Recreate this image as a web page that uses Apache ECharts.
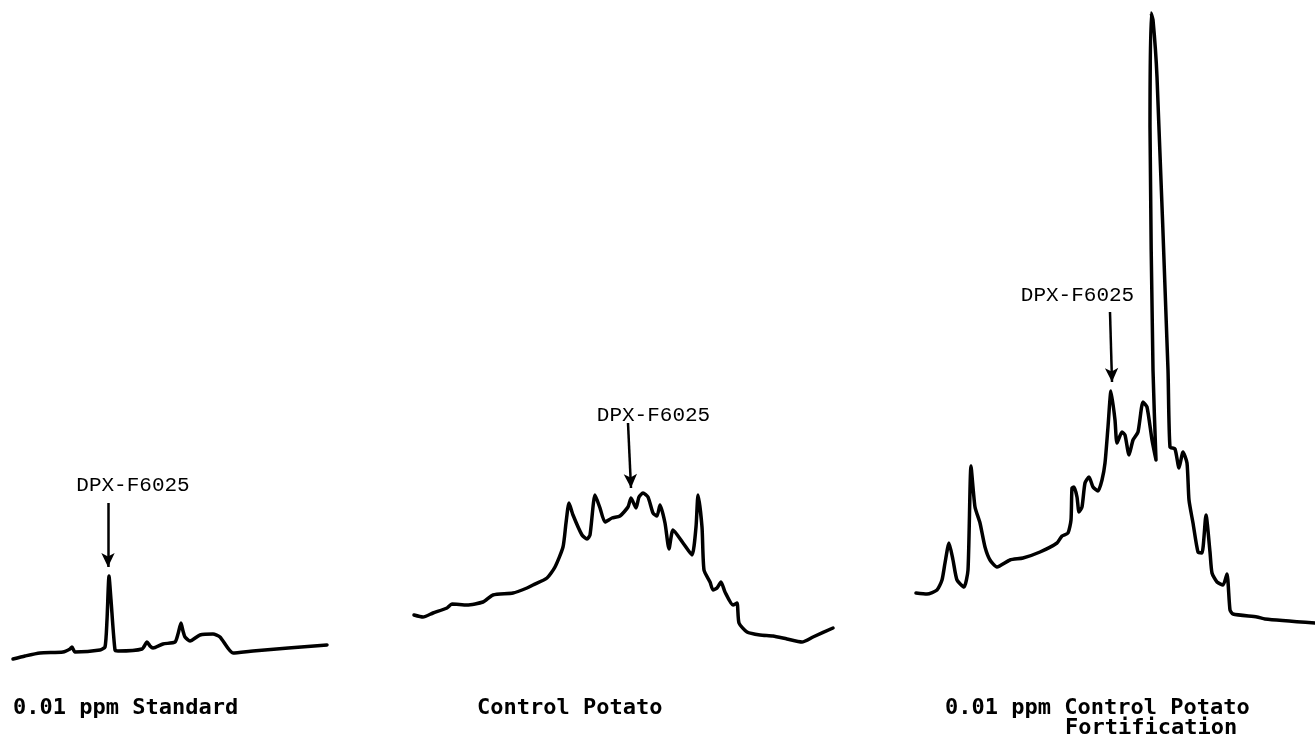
<!DOCTYPE html>
<html>
<head>
<meta charset="utf-8">
<script src="https://cdn.jsdelivr.net/npm/echarts@6/dist/echarts.min.js"></script>
<style>
  html, body { margin: 0; padding: 0; background: #fff; }
  #chart { width: 1315px; height: 737px; }
</style>
</head>
<body>
<div id="chart"></div>
<script>
// 0.01 ppm standard trace (time units, detector response)
var std_t = [13, 25, 40, 63, 70, 72, 75, 100, 105, 107, 109, 111, 115, 118, 142, 147, 150, 153, 163, 175, 178, 181, 183, 185, 190, 200, 213, 220, 233, 253, 327];
var std_y = [21, 24, 27, 28, 31, 33, 28, 30, 33, 60, 104, 80, 30, 29, 31, 38, 34, 32, 36, 38, 46, 57, 49, 43, 39, 45, 46, 43, 27, 29, 35];

// control potato trace
var ctl_t = [14, 23, 33, 47, 52, 67, 83, 93, 113, 127, 133, 147, 155, 163, 166, 169, 173, 182, 187, 190, 195, 200, 205, 212, 220, 228, 231, 236, 239, 243, 248, 253, 257, 260, 265, 269, 273, 283, 292, 296, 298, 302, 304, 310, 313, 317, 321, 325, 333, 337, 339, 347, 360, 373, 387, 402, 413, 433];
var ctl_y = [65, 63, 67, 72, 76, 75, 78, 85, 87, 92, 95, 102, 113, 133, 157, 177, 165, 145, 141, 145, 185, 172, 158, 162, 164, 173, 182, 172, 183, 187, 183, 167, 164, 175, 157, 131, 150, 137, 125, 153, 185, 153, 110, 98, 90, 92, 98, 88, 75, 77, 57, 48, 45, 44, 41, 38, 43, 52];

// 0.01 ppm fortification trace
var fort_t = [16, 27, 37, 42, 45, 49, 53, 57, 64, 68, 71, 75, 80, 85, 90, 97, 110, 123, 140, 157, 162, 168, 171, 172, 174, 177, 179, 182, 185, 189, 193, 198, 202, 205, 208, 211, 215, 217, 222, 225, 229, 233, 238, 243, 247, 252, 256, 253, 250, 251, 253, 257, 268, 270, 275, 279, 283, 287, 289, 293, 298, 302, 306, 310, 312, 317, 323, 327, 330, 333, 357, 365, 415];
var fort_y = [87, 86, 90, 100, 117, 137, 120, 100, 93, 110, 214, 173, 157, 133, 120, 113, 120, 122, 128, 137, 144, 147, 160, 192, 193, 183, 168, 173, 197, 203, 193, 189, 200, 217, 253, 289, 260, 237, 248, 245, 225, 240, 248, 278, 273, 240, 220, 310, 553, 667, 660, 603, 310, 233, 231, 212, 228, 217, 180, 157, 128, 127, 165, 128, 107, 98, 95, 106, 70, 66, 63, 61, 57];

var captions = ['0.01 ppm Standard', 'Control Potato', '0.01 ppm Control Potato'];
var peakName = 'DPX-F6025';
// arrow to the DPX-F6025 peak in each trace: [x top, y top, x tip, y tip]
var arrows = [[108, 177, 108, 113], [228, 257, 231, 192], [210, 368, 212, 298]];
// label centre for each arrow
var peakLabels = [[133, 195], [253.5, 265], [177.5, 385]];

var grids = [
  { left: 0, width: 340 },
  { left: 400, width: 440 },
  { left: 900, width: 415 },
];

function zip(t, y) {
  return t.map(function (v, i) { return [v, y[i]]; });
}

var traces = [zip(std_t, std_y), zip(ctl_t, ctl_y), zip(fort_t, fort_y)];

var chart = echarts.init(document.getElementById('chart'));

var option = {
  animation: false,
  backgroundColor: '#fff',
  grid: grids.map(function (g) {
    return { left: g.left, width: g.width, top: 0, bottom: 57 };
  }),
  xAxis: grids.map(function (g, i) {
    return { type: 'value', gridIndex: i, min: 0, max: g.width, show: false };
  }),
  yAxis: grids.map(function (g, i) {
    return { type: 'value', gridIndex: i, min: 0, max: 680, show: false };
  }),
  series: traces.map(function (d, i) {
    var a = arrows[i];
    return {
      type: 'line',
      xAxisIndex: i,
      yAxisIndex: i,
      data: d,
      showSymbol: false,
      symbol: 'none',
      smooth: 0.2,
      lineStyle: { color: '#000', width: 3.5, join: 'round', cap: 'round' },
      markLine: {
        silent: true,
        symbol: ['none', 'arrow'],
        symbolSize: [10, 14],
        lineStyle: { color: '#000', width: 2.5, type: 'solid' },
        label: { show: false },
        data: [[{ coord: [a[0], a[1]] }, { coord: [a[2], a[3]] }]],
      },
    };
  }),
};

chart.setOption(option);

// peak labels placed from data coordinates
var graphics = peakLabels.map(function (p, i) {
  var px = chart.convertToPixel({ gridIndex: i }, p);
  return {
    type: 'text',
    x: px[0],
    y: px[1],
    style: {
      text: peakName,
      font: '21px "Liberation Mono"',
      fill: '#000',
      textAlign: 'center',
      textVerticalAlign: 'middle',
    },
  };
});

var capPos = [[13, 708], [477, 708], [945, 708]];
captions.forEach(function (c, i) {
  graphics.push({
    type: 'text',
    x: capPos[i][0],
    y: capPos[i][1],
    style: {
      text: c,
      font: 'bold 22px "DejaVu Sans Mono"',
      fill: '#000',
      textAlign: 'left',
      textVerticalAlign: 'middle',
    },
  });
});
graphics.push({
  type: 'text',
  x: 1065,
  y: 728,
  style: {
    text: 'Fortification',
    font: 'bold 22px "DejaVu Sans Mono"',
    fill: '#000',
    textAlign: 'left',
    textVerticalAlign: 'middle',
  },
});

chart.setOption({ graphic: graphics });
</script>
</body>
</html>
